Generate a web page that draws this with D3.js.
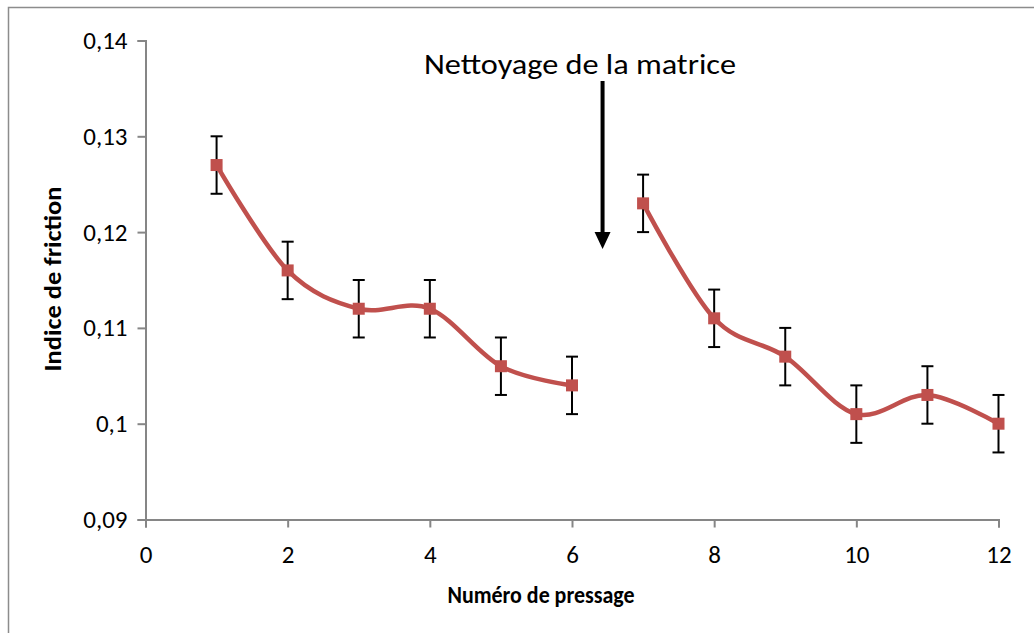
<!DOCTYPE html>
<html><head><meta charset="utf-8">
<script src="https://cdn.jsdelivr.net/npm/d3@7/dist/d3.min.js"></script>
<style>body{margin:0;background:#fff}svg{display:block}text{font-family:Carlito,Calibri,"Open Sans","Noto Sans",sans-serif}</style>
</head><body>
<script>
const pressings = [1,2,3,4,5,6,7,8,9,10,11,12];
const friction = [0.127,0.116,0.112,0.112,0.106,0.104,0.123,0.111,0.107,0.101,0.103,0.100];
const errors = [0.003,0.003,0.003,0.003,0.003,0.003,0.003,0.003,0.003,0.003,0.003,0.003];
const segments = [[0,6],[6,12]];
const xTicks = [0,2,4,6,8,10,12];
const yTicks = [0.09,0.10,0.11,0.12,0.13,0.14];
const yTickLabels = ["0,09","0,1","0,11","0,12","0,13","0,14"];
const annotation = "Nettoyage de la matrice";
const arrowX = 6.43;

const W=1034,H=633;
const svg=d3.select("body").append("svg").attr("width",W).attr("height",H);
svg.append("rect").attr("x",8.5).attr("y",7.5).attr("width",W).attr("height",H).attr("fill","none").attr("stroke","#8c8c8c").attr("stroke-width",1.5);

const x=d3.scaleLinear().domain([0,12]).range([145.5,998.5]);
const y=d3.scaleLinear().domain([0.09,0.14]).range([519.5,40.5]);
const axisColor="#868686";

const yAx=svg.append("g").attr("transform",`translate(${x(0)},0)`)
  .call(d3.axisLeft(y).tickValues(yTicks).tickSize(8).tickPadding(10).tickFormat((d,i)=>yTickLabels[i]));
const xAx=svg.append("g").attr("transform",`translate(0,${y(0.09)})`)
  .call(d3.axisBottom(x).tickValues(xTicks).tickSize(8).tickPadding(18));
[xAx,yAx].forEach(g=>{
  g.select(".domain").attr("stroke",axisColor).attr("stroke-width",2);
  g.selectAll(".tick line").attr("stroke",axisColor).attr("stroke-width",2);
  g.selectAll(".tick text").attr("fill","#000").style("font-size","25px");
});

svg.append("text").attr("x",541).attr("y",603).attr("text-anchor","middle")
  .style("font-size","24px").style("font-weight","bold").text("Numéro de pressage")
  .attr("textLength",187).attr("lengthAdjust","spacingAndGlyphs");
svg.append("text").attr("transform","translate(61,279) rotate(-90)").attr("text-anchor","middle")
  .style("font-size","25px").style("font-weight","bold").text("Indice de friction")
  .attr("textLength",185).attr("lengthAdjust","spacingAndGlyphs");

// error bars
const eb=svg.append("g").attr("stroke","#000").attr("stroke-width",2);
pressings.forEach((p,i)=>{
  const cx=x(p), y1=y(friction[i]+errors[i]), y2=y(friction[i]-errors[i]);
  eb.append("line").attr("x1",cx).attr("x2",cx).attr("y1",y1).attr("y2",y2);
  eb.append("line").attr("x1",cx-6).attr("x2",cx+6).attr("y1",y1).attr("y2",y1);
  eb.append("line").attr("x1",cx-6).attr("x2",cx+6).attr("y1",y2).attr("y2",y2);
});

const line=d3.line().x(d=>x(d[0])).y(d=>y(d[1])).curve(d3.curveCatmullRom.alpha(0));
const col="#C0504D";
segments.forEach(([a,b])=>{
  const pts=pressings.slice(a,b).map((p,k)=>[p,friction[a+k]]);
  svg.append("path").attr("d",line(pts)).attr("fill","none").attr("stroke",col).attr("stroke-width",4.5).attr("stroke-linecap","round");
});
svg.append("g").selectAll("rect").data(pressings).join("rect")
  .attr("x",d=>x(d)-6).attr("y",(d,i)=>y(friction[i])-6).attr("width",12).attr("height",12).attr("fill",col);

// annotation
svg.append("text").attr("x",580).attr("y",74).attr("text-anchor","middle").style("font-size","28px").text(annotation)
  .attr("textLength",312).attr("lengthAdjust","spacingAndGlyphs");
const ax=x(arrowX);
svg.append("line").attr("x1",ax).attr("x2",ax).attr("y1",81).attr("y2",234).attr("stroke","#000").attr("stroke-width",4);
svg.append("path").attr("d",`M${ax-8},232 L${ax+8},232 L${ax},249 Z`).attr("fill","#000");
</script>
</body></html>
